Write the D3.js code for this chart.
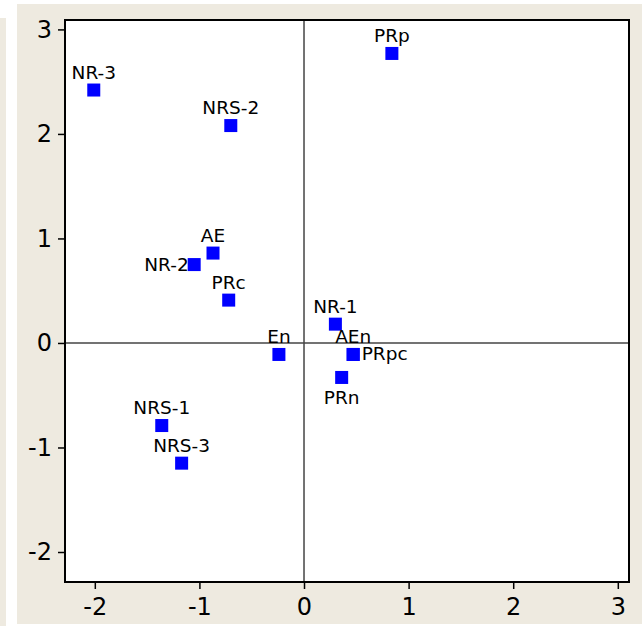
<!DOCTYPE html>
<html><head><meta charset="utf-8">
<script src="https://cdn.jsdelivr.net/npm/d3@7"></script>
<style>body{margin:0;background:#fff}svg{display:block}</style>
</head><body>
<script>
const names = ["NR-3","PRp","NRS-2","AE","NR-2","PRc","NR-1","En","AEn","PRpc","PRn","NRS-1","NRS-3"];
const xVals = [-2.01,0.84,-0.70,-0.87,-1.05,-0.72,0.30,-0.24,0.47,0.47,0.36,-1.36,-1.17];
const yVals = [2.42,2.77,2.08,0.86,0.75,0.41,0.18,-0.11,-0.11,-0.11,-0.33,-0.79,-1.15];
const labelSide = ["top","top","top","top","left","top","top","top","top","right","bottom","top","top"];
const xTicks = [-2,-1,0,1,2,3];
const yTicks = [-2,-1,0,1,2,3];

const W=642,H=626;
const svg=d3.select("body").append("svg").attr("width",W).attr("height",H);
svg.append("rect").attr("x",0).attr("y",18).attr("width",6).attr("height",H-18).attr("fill","#eeeae0");
svg.append("rect").attr("x",17).attr("y",4).attr("width",W-17).attr("height",620).attr("fill","#eeeae0");

const L=65,R=629,T=20,B=582;
const x=d3.scaleLinear().domain([-2.285,3.107]).range([L,R]);
const y=d3.scaleLinear().domain([-2.287,3.09]).range([B,T]);

svg.append("rect").attr("x",L).attr("y",T).attr("width",R-L).attr("height",B-T).attr("fill","#fff");

const font="DejaVu Sans, Verdana, sans-serif";
const fmt=d=>String(d);
const xa=svg.append("g").attr("transform",`translate(0,${B})`).call(d3.axisBottom(x).tickValues(xTicks).tickSize(7).tickPadding(6).tickFormat(fmt));
const ya=svg.append("g").attr("transform",`translate(${L},0)`).call(d3.axisLeft(y).tickValues(yTicks).tickSize(7).tickPadding(6).tickFormat(fmt));
[xa,ya].forEach(a=>{a.select(".domain").remove();a.selectAll("line").attr("stroke","#000").attr("stroke-width",1.5);a.selectAll("text").attr("font-family",font).attr("font-size",24).attr("fill","#000");});
xa.selectAll("text").attr("dy","0.85em");

svg.append("line").attr("x1",x(0)).attr("x2",x(0)).attr("y1",T).attr("y2",B).attr("stroke","#444").attr("stroke-width",1.5);
svg.append("line").attr("x1",L).attr("x2",R).attr("y1",y(0)).attr("y2",y(0)).attr("stroke","#444").attr("stroke-width",1.5);
svg.append("rect").attr("x",L).attr("y",T).attr("width",R-L).attr("height",B-T).attr("fill","none").attr("stroke","#000").attr("stroke-width",2);

const data=names.map((n,i)=>({n,x:xVals[i],y:yVals[i],s:labelSide[i]}));
const S=13;
svg.selectAll("rect.pt").data(data).join("rect").attr("class","pt")
 .attr("x",d=>x(d.x)-S/2).attr("y",d=>y(d.y)-S/2).attr("width",S).attr("height",S).attr("fill","#0000ff");
svg.selectAll("text.lb").data(data).join("text").attr("class","lb")
 .attr("font-family",font).attr("font-size",18.5).attr("fill","#000")
 .attr("text-anchor",d=>d.s==="left"?"end":d.s==="right"?"start":"middle")
 .attr("x",d=>d.s==="left"?x(d.x)-S/2+1:d.s==="right"?x(d.x)+S/2+2:x(d.x))
 .attr("y",d=>d.s==="top"?y(d.y)-S/2-5:d.s==="bottom"?y(d.y)+S/2+20:y(d.y)+6)
 .text(d=>d.n);
</script>
</body></html>
